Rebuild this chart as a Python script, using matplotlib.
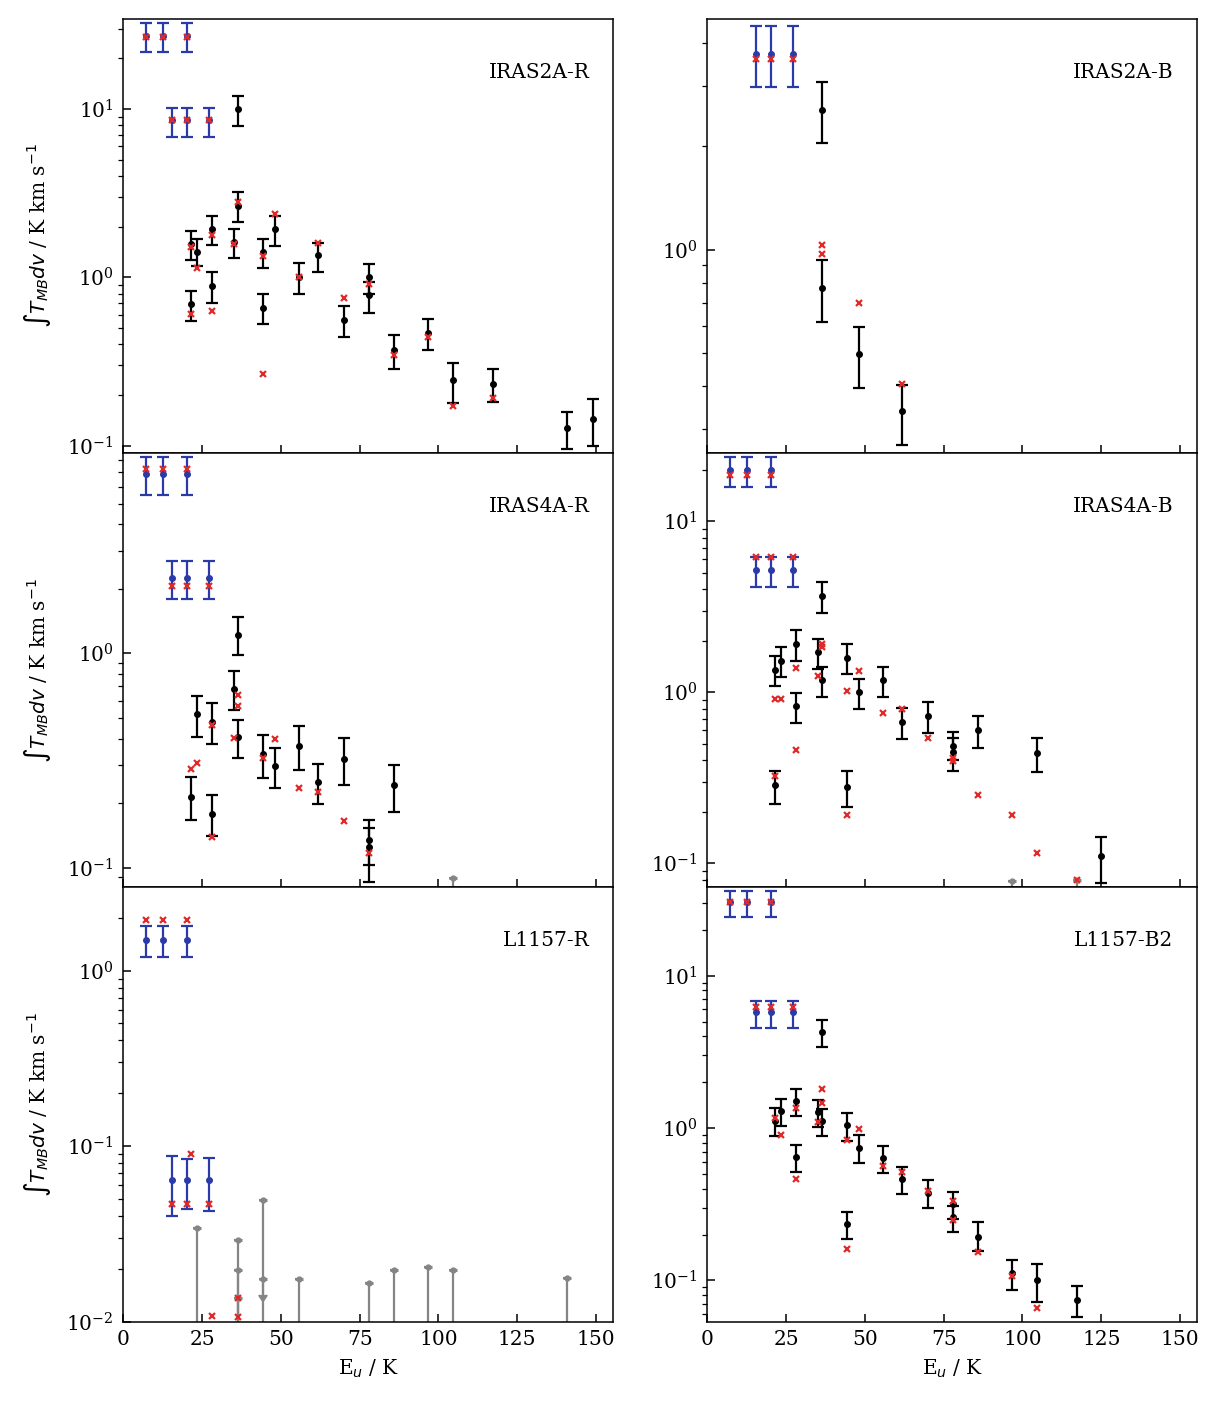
import matplotlib
matplotlib.use('Agg')
import matplotlib.pyplot as plt
import numpy as np

plt.rcParams['font.family'] = 'serif'
plt.rcParams['font.serif'] = ['DejaVu Serif']
plt.rcParams['font.size'] = 14.5
plt.rcParams['axes.linewidth'] = 1.1

# ---------------- data ----------------
panel_names = ["IRAS2A-R", "IRAS2A-B", "IRAS4A-R", "IRAS4A-B", "L1157-R", "L1157-B2"]

# IRAS2A-R
i2r_blue_E = [7.1, 12.6, 20.2, 15.5, 20.2, 27.1]
i2r_blue_y = [27.2, 27.2, 27.2, 8.6, 8.6, 8.6]
i2r_blue_lo = [21.7, 21.7, 21.7, 6.85, 6.85, 6.85]
i2r_blue_hi = [32.6, 32.6, 32.6, 10.2, 10.2, 10.2]
i2r_E = [36.3, 36.3, 21.6, 23.5, 28.2, 35.0, 44.3, 48.0, 55.9, 61.9, 78.0, 78.0,
         21.6, 28.2, 44.3, 69.9, 86.0, 96.6, 104.6, 117.4, 140.8, 148.9]
i2r_y = [9.95, 2.67, 1.57, 1.41, 1.94, 1.63, 1.41, 1.93, 1.01, 1.35, 1.00, 0.78,
         0.69, 0.89, 0.66, 0.56, 0.37, 0.47, 0.244, 0.234, 0.127, 0.144]
i2r_lo = [7.92, 2.13, 1.26, 1.16, 1.55, 1.30, 1.13, 1.53, 0.80, 1.07, 0.80, 0.617,
          0.551, 0.708, 0.528, 0.441, 0.284, 0.370, 0.180, 0.182, 0.095, 0.100]
i2r_hi = [11.9, 3.20, 1.88, 1.69, 2.33, 1.95, 1.70, 2.33, 1.22, 1.61, 1.20, 0.94,
          0.834, 1.07, 0.80, 0.679, 0.452, 0.563, 0.308, 0.285, 0.159, 0.189]
i2r_mod_E = [7.1, 12.6, 20.2, 15.5, 20.2, 27.1, 36.3, 21.6, 23.5, 28.2, 35.0, 44.3, 48.0,
             55.9, 61.9, 69.9, 78.0, 21.6, 28.2, 44.3, 86.0, 96.6, 104.6, 117.4]
i2r_mod_y = [26.9, 26.9, 26.9, 8.6, 8.6, 8.6, 2.81, 1.51, 1.13, 1.78, 1.57, 1.33, 2.37,
             1.0, 1.59, 0.75, 0.91, 0.605, 0.634, 0.268, 0.347, 0.44, 0.173, 0.191]
i2r_ul_E = []
i2r_ul_y = []
i2r_ul_lo = []

# IRAS2A-B
i2b_blue_E = [15.5, 20.2, 27.1]
i2b_blue_y = [3.72, 3.72, 3.72]
i2b_blue_lo = [2.98, 2.98, 2.98]
i2b_blue_hi = [4.49, 4.49, 4.49]
i2b_E = [36.3, 36.3, 48.0, 61.9]
i2b_y = [2.55, 0.771, 0.495, 0.339]
i2b_lo = [2.04, 0.615, 0.394, 0.269]
i2b_hi = [3.07, 0.93, 0.595, 0.404]
i2b_mod_E = [15.5, 20.2, 27.1, 36.3, 36.3, 48.0, 61.9]
i2b_mod_y = [3.59, 3.59, 3.59, 1.03, 0.973, 0.698, 0.405]
i2b_ul_E = []
i2b_ul_y = []
i2b_ul_lo = []

# IRAS4A-R
i4r_blue_E = [7.1, 12.6, 20.2, 15.5, 20.2, 27.1]
i4r_blue_y = [6.89, 6.89, 6.89, 2.24, 2.24, 2.24]
i4r_blue_lo = [5.47, 5.47, 5.47, 1.79, 1.79, 1.79]
i4r_blue_hi = [8.24, 8.24, 8.24, 2.71, 2.71, 2.71]
i4r_E = [36.3, 35.0, 23.5, 28.2, 36.3, 44.3, 48.0, 55.9, 61.9, 69.9, 21.6, 28.2, 78.0, 78.0, 86.0]
i4r_y = [1.22, 0.681, 0.521, 0.479, 0.408, 0.337, 0.299, 0.370, 0.250, 0.322, 0.214, 0.177,
         0.134, 0.125, 0.242]
i4r_lo = [0.979, 0.542, 0.408, 0.378, 0.325, 0.261, 0.236, 0.286, 0.197, 0.243, 0.166, 0.140,
          0.103, 0.0854, 0.181]
i4r_hi = [1.47, 0.824, 0.634, 0.586, 0.490, 0.417, 0.360, 0.456, 0.304, 0.401, 0.264, 0.218,
          0.166, 0.153, 0.302]
i4r_mod_E = [7.1, 12.6, 20.2, 15.5, 20.2, 27.1, 36.3, 36.3, 35.0, 28.2, 21.6, 23.5, 28.2,
             44.3, 48.0, 55.9, 61.9, 69.9, 78.0]
i4r_mod_y = [7.27, 7.27, 7.27, 2.06, 2.06, 2.06, 0.638, 0.569, 0.402, 0.463, 0.288, 0.306,
             0.139, 0.324, 0.399, 0.236, 0.226, 0.165, 0.1175]
i4r_ul_E = [104.6]
i4r_ul_y = [0.0898]
i4r_ul_lo = [0.0005]

# IRAS4A-B
i4b_blue_E = [7.1, 12.6, 20.2, 15.5, 20.2, 27.1]
i4b_blue_y = [19.8, 19.8, 19.8, 5.15, 5.15, 5.15]
i4b_blue_lo = [15.9, 15.9, 15.9, 4.1, 4.1, 4.1]
i4b_blue_hi = [23.7, 23.7, 23.7, 6.2, 6.2, 6.2]
i4b_E = [36.3, 21.6, 23.5, 28.2, 35.0, 36.3, 44.3, 48.0, 55.9, 61.9, 69.9, 78.0, 78.0, 86.0,
         28.2, 104.6, 21.6, 44.3, 125.0]
i4b_y = [3.63, 1.35, 1.52, 1.92, 1.71, 1.17, 1.59, 1.00, 1.17, 0.671, 0.724, 0.483, 0.446,
         0.600, 0.829, 0.440, 0.286, 0.278, 0.110]
i4b_lo = [2.90, 1.08, 1.22, 1.53, 1.36, 0.931, 1.27, 0.796, 0.931, 0.533, 0.573, 0.40, 0.344,
          0.473, 0.659, 0.339, 0.223, 0.214, 0.076]
i4b_hi = [4.38, 1.62, 1.84, 2.30, 2.05, 1.40, 1.92, 1.20, 1.41, 0.806, 0.874, 0.584, 0.54,
          0.727, 0.987, 0.536, 0.347, 0.344, 0.143]
i4b_mod_E = [7.1, 12.6, 20.2, 15.5, 20.2, 27.1, 36.3, 36.3, 35.0, 28.2, 21.6, 23.5, 44.3,
             48.0, 55.9, 61.9, 69.9, 78.0, 78.0, 28.2, 21.6, 44.3, 86.0, 96.6, 104.6, 117.4]
i4b_mod_y = [18.7, 18.7, 18.7, 6.16, 6.16, 6.16, 1.92, 1.83, 1.24, 1.39, 0.91, 0.91, 1.02,
             1.33, 0.757, 0.792, 0.536, 0.411, 0.393, 0.46, 0.323, 0.191, 0.249, 0.192,
             0.115, 0.080]
i4b_ul_E = [96.6, 117.4]
i4b_ul_y = [0.0788, 0.080]
i4b_ul_lo = [0.0005, 0.0005]

# L1157-R
l1r_blue_E = [7.1, 12.6, 20.2, 15.5, 20.2, 27.1]
l1r_blue_y = [1.49, 1.49, 1.49, 0.0638, 0.0638, 0.0638]
l1r_blue_lo = [1.19, 1.19, 1.19, 0.040, 0.0438, 0.0428]
l1r_blue_hi = [1.80, 1.80, 1.80, 0.0877, 0.0840, 0.0851]
l1r_E = []
l1r_y = []
l1r_lo = []
l1r_hi = []
l1r_mod_E = [7.1, 12.6, 20.2, 15.5, 20.2, 27.1, 21.6, 28.2, 36.3, 36.3]
l1r_mod_y = [1.94, 1.94, 1.94, 0.0466, 0.0466, 0.0466, 0.090, 0.0108, 0.0106, 0.0137]
l1r_ul_E = [23.5, 36.3, 36.3, 36.3, 44.3, 44.3, 55.9, 78.0, 86.0, 96.6, 104.6, 140.8]
l1r_ul_y = [0.034, 0.0292, 0.0198, 0.0137, 0.0493, 0.0175, 0.0175, 0.0166, 0.0197,
            0.0204, 0.0197, 0.0177]
l1r_ul_lo = [0.0005, 0.0005, 0.0005, 0.0005, 0.0005, 0.0142, 0.0005, 0.0005, 0.0005,
             0.0005, 0.0005, 0.0005]

# L1157-B2
l1b_blue_E = [7.1, 12.6, 20.2, 15.5, 20.2, 27.1]
l1b_blue_y = [30.4, 30.4, 30.4, 5.75, 5.75, 5.75]
l1b_blue_lo = [24.1, 24.1, 24.1, 4.54, 4.54, 4.54]
l1b_blue_hi = [36.0, 36.0, 36.0, 6.79, 6.79, 6.79]
l1b_E = [36.3, 21.6, 23.5, 28.2, 35.0, 36.3, 44.3, 48.0, 55.9, 61.9, 69.9, 78.0, 78.0, 86.0,
         28.2, 44.3, 96.6, 104.6, 117.4]
l1b_y = [4.25, 1.12, 1.29, 1.51, 1.28, 1.12, 1.04, 0.743, 0.636, 0.461, 0.377, 0.318, 0.261,
         0.194, 0.642, 0.235, 0.112, 0.100, 0.0747]
l1b_lo = [3.39, 0.891, 1.025, 1.20, 1.01, 0.891, 0.826, 0.593, 0.507, 0.368, 0.299, 0.254,
          0.208, 0.156, 0.515, 0.186, 0.0864, 0.0718, 0.0575]
l1b_hi = [5.10, 1.35, 1.54, 1.81, 1.53, 1.33, 1.25, 0.895, 0.766, 0.553, 0.456, 0.383, 0.31,
          0.240, 0.770, 0.283, 0.137, 0.1285, 0.0923]
l1b_mod_E = [7.1, 12.6, 20.2, 15.5, 20.2, 27.1, 36.3, 36.3, 35.0, 28.2, 21.6, 23.5, 44.3,
             48.0, 55.9, 61.9, 69.9, 78.0, 78.0, 86.0, 28.2, 44.3, 96.6, 104.6]
l1b_mod_y = [30.4, 30.4, 30.4, 6.2, 6.2, 6.2, 1.80, 1.47, 1.09, 1.35, 1.16, 0.895, 0.839,
             0.99, 0.563, 0.518, 0.387, 0.333, 0.25, 0.153, 0.466, 0.160, 0.107, 0.0656]
l1b_ul_E = []
l1b_ul_y = []
l1b_ul_lo = []

panels = [
    (i2r_blue_E, i2r_blue_y, i2r_blue_lo, i2r_blue_hi, i2r_E, i2r_y, i2r_lo, i2r_hi,
     i2r_mod_E, i2r_mod_y, i2r_ul_E, i2r_ul_y, i2r_ul_lo),
    (i2b_blue_E, i2b_blue_y, i2b_blue_lo, i2b_blue_hi, i2b_E, i2b_y, i2b_lo, i2b_hi,
     i2b_mod_E, i2b_mod_y, i2b_ul_E, i2b_ul_y, i2b_ul_lo),
    (i4r_blue_E, i4r_blue_y, i4r_blue_lo, i4r_blue_hi, i4r_E, i4r_y, i4r_lo, i4r_hi,
     i4r_mod_E, i4r_mod_y, i4r_ul_E, i4r_ul_y, i4r_ul_lo),
    (i4b_blue_E, i4b_blue_y, i4b_blue_lo, i4b_blue_hi, i4b_E, i4b_y, i4b_lo, i4b_hi,
     i4b_mod_E, i4b_mod_y, i4b_ul_E, i4b_ul_y, i4b_ul_lo),
    (l1r_blue_E, l1r_blue_y, l1r_blue_lo, l1r_blue_hi, l1r_E, l1r_y, l1r_lo, l1r_hi,
     l1r_mod_E, l1r_mod_y, l1r_ul_E, l1r_ul_y, l1r_ul_lo),
    (l1b_blue_E, l1b_blue_y, l1b_blue_lo, l1b_blue_hi, l1b_E, l1b_y, l1b_lo, l1b_hi,
     l1b_mod_E, l1b_mod_y, l1b_ul_E, l1b_ul_y, l1b_ul_lo),
]

# ---------------- layout / style ----------------
ylims = [(0.0901, 34.3), (0.255, 4.7), (0.0807, 8.6), (0.072, 25.0), (0.01, 2.98), (0.0536, 38.0)]
xlim = (0, 155.5)
col_left = [0.1013, 0.5812]
row_bottom = [0.6767, 0.3670, 0.0573]
ax_w, ax_h = 0.4027, 0.3098

BLUE = '#2a3aa8'
RED = '#e02a2a'
GRAY = '#858585'

fig = plt.figure(figsize=(12.17, 14.02), dpi=100)

for k, (bE, by, blo, bhi, E, y, lo, hi, mE, my, uE, uy, ulo) in enumerate(panels):
    r, c = divmod(k, 2)
    ax = fig.add_axes([col_left[c], row_bottom[r], ax_w, ax_h])
    ax.set_yscale('log')

    if bE:
        by_a = np.array(by)
        ax.errorbar(bE, by_a, yerr=[by_a - np.array(blo), np.array(bhi) - by_a],
                    fmt='o', color=BLUE, ms=4, elinewidth=1.6, capsize=4, capthick=1.6, zorder=3)
    if E:
        y_a = np.array(y)
        ax.errorbar(E, y_a, yerr=[y_a - np.array(lo), np.array(hi) - y_a],
                    fmt='o', color='black', ms=4, elinewidth=1.6, capsize=4, capthick=1.6, zorder=3)
    if uE:
        uy_a = np.array(uy)
        ax.errorbar(uE, uy_a, yerr=[uy_a - np.array(ulo), np.zeros(len(uy_a))], uplims=True,
                    fmt='o', color=GRAY, ms=3.5, elinewidth=1.6, capsize=3, capthick=1.6, zorder=2)
        ax.plot(uE, uy_a, '_', color=GRAY, ms=6, mew=2.2, zorder=2)
    if mE:
        ax.plot(mE, my, 'x', color=RED, ms=5, mew=1.6, zorder=4)

    ax.set_xlim(*xlim)
    ax.set_ylim(*ylims[k])
    ax.set_xticks([0, 25, 50, 75, 100, 125, 150])
    ax.tick_params(axis='both', which='major', direction='in', length=6, width=1.1)
    ax.tick_params(axis='y', which='major', pad=7)
    ax.tick_params(axis='x', which='major', pad=6)
    ax.tick_params(axis='y', which='minor', direction='out', length=3.5, width=0.9)
    ax.tick_params(axis='x', which='minor', bottom=False)
    if r < 2:
        ax.tick_params(axis='x', labelbottom=False)
    else:
        ax.set_xlabel('E$_u$ / K', labelpad=6)
    if c == 0:
        ax.set_ylabel(r'$\int T_{MB} dv$ / K km s$^{-1}$')
        ax.yaxis.set_label_coords(-0.1435, 0.5)
    ax.text(0.951, 0.864, panel_names[k], transform=ax.transAxes, ha='right', va='baseline')

fig.savefig('out.png', dpi=100)
